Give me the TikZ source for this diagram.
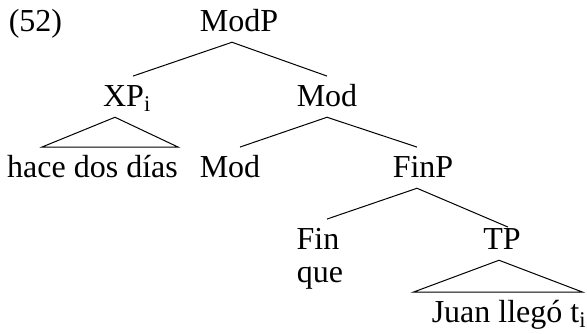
\documentclass[tikz,border=0pt]{standalone}
\usepackage{fontspec}
\setmainfont{Liberation Serif}
\tikzset{
	cat/.style={anchor=base, inner sep=0pt, text height=23pt, text depth=7.5pt, font=\fontsize{24}{28}\selectfont},
	branch/.style={line width=0.75pt}
}
\begin{document}
\begin{tikzpicture}[x=0.75pt,y=0.75pt,yscale=-1,xscale=1]
	\useasboundingbox (0,0) rectangle (587,334);
	
	% Text Nodes
	\node [cat] (num) at (35.5,32) {(52)};
	\node [cat] (modp) at (239,32) {ModP};
	\node [cat] (xp) at (127,107) {XP\textsubscript{i}};
	\node [cat] (modbar) at (327,107) {Mod};
	\node [cat] (hace) at (92.5,178) {hace dos días};
	\node [cat] (mod) at (230,178) {Mod};
	\node [cat] (finp) at (423,178) {FinP};
	\node [cat] (fin) at (318,250) {Fin};
	\node [cat] (que) at (320,283) {que};
	\node [cat] (tp) at (502,250) {TP};
	\node [cat] (juan) at (509,323) {Juan llegó t\textsubscript{i}};
	
	% Branches
	\draw [branch] ([xshift=4.5pt]xp.north) -- ([xshift=-5.25pt]modp.south) -- (modbar.north) ;
	\draw [branch] ([xshift=7.5pt]mod.north) -- (modbar.south) -- ([xshift=-4.5pt]finp.north) ;
	\draw [branch] ([xshift=6.75pt]fin.north) -- ([xshift=-4.5pt]finp.south) -- ([xshift=4.5pt,yshift=6pt]tp.north) ;
	% Triangles
	\draw [branch] ([xshift=-9pt]xp.south) -- (hace.north east) -- ([xshift=26.25pt]hace.north west) -- cycle ;
	\draw [branch] ([xshift=-2.25pt]tp.south) -- ([xshift=-3pt]juan.north east) -- ([xshift=-13.5pt]juan.north west) -- cycle ;
	
\end{tikzpicture}
\end{document}
